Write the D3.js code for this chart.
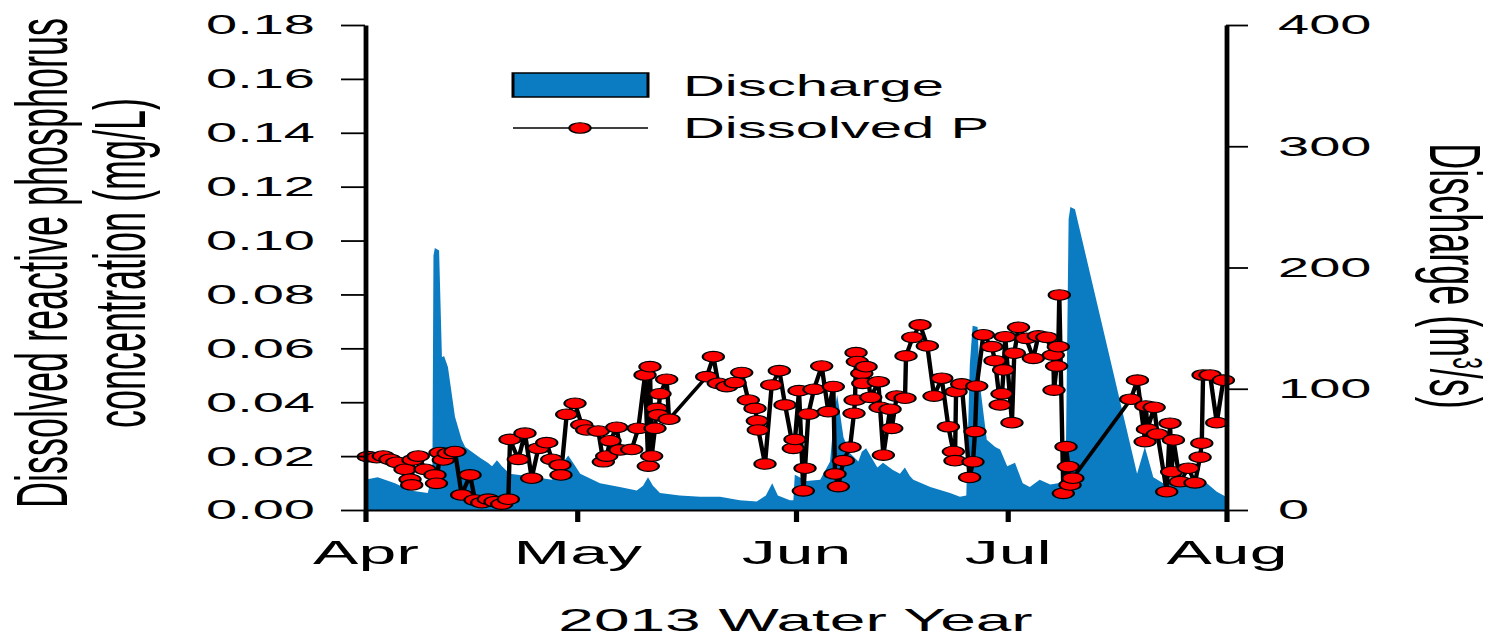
<!DOCTYPE html>
<html>
<head>
<meta charset="utf-8">
<script src="https://cdn.jsdelivr.net/npm/d3@7"></script>
<style>
  html, body { margin: 0; padding: 0; background: #fff; }
  svg { display: block; }
  text { font-family: "Liberation Sans", Arial, Helvetica, sans-serif; fill: #000; }
</style>
</head>
<body>
<svg id="chart" width="1504" height="641"></svg>
<script>
// ---- data -------------------------------------------------------------
// Sample times are given as days after 1 April 2013 (fractional = time of day).
const startDate = new Date(2013, 3, 1);

// Discharge (m3/s)
const qDay = [0, 1.8, 4.25, 6.4, 8.9, 9.55, 9.7, 9.9, 10.5, 10.9, 11.2, 11.75, 12.75, 13.7, 14.2,
  16.3, 17.4, 18.0, 18.7, 19.4, 20.5, 23.0, 26.5, 27.9, 28.8, 29.6, 30.5, 33.3, 36.1, 38.5,
  39.4, 40.1, 40.8, 41.8, 44.6, 47.5, 50.3, 53.1, 55.5, 56.8, 57.7, 58.5, 60.2, 60.7, 60.9,
  62.6, 64.5, 65.9, 66.5, 66.9, 67.3, 67.8, 68.7, 69.9, 70.4, 71.0, 71.6, 72.6, 73.4, 74.8,
  75.8, 76.5, 77.2, 77.7, 80.1, 82.9, 84.3, 85.2, 85.7, 86.1, 86.8, 87.1, 88.1, 89.3, 90.0,
  91.0, 92.1, 93.2, 94.2, 95.6, 97.1, 98.2, 98.9, 99.3, 99.7, 99.95, 100.6, 109.4, 110.5,
  111.7, 113.1, 116.8, 118.7, 120.7, 122];
const qVal = [25, 27, 22, 16, 14, 30, 210, 216, 214, 126, 127, 118, 77, 58, 52,
  43, 39, 36, 41, 36, 30, 28, 25, 38, 45, 38, 30, 22, 19, 16,
  20, 27, 20, 14, 12, 11, 11, 8, 7, 12, 22, 12, 8, 8, 29,
  24, 25, 40, 80, 95, 80, 60, 47, 40, 48, 51, 45, 35, 39, 33,
  30, 35, 28, 25, 19, 14, 11, 12, 120, 152, 151, 105, 58, 52, 50,
  36, 39, 22, 19, 25, 21, 22, 25, 40, 240, 250, 248, 30, 52,
  27, 22, 22, 25, 15, 11];

// Dissolved reactive phosphorus (mg/L)
const pDay = [0.47, 1.66, 2.59, 3.54, 4.49, 5.67, 6.38, 6.62, 6.80, 7.55, 8.50, 9.92, 10.13,
  10.63, 11.10, 11.80, 12.75, 13.70, 14.88, 15.59, 16.54, 17.47, 18.42, 19.37, 20.31, 20.55,
  21.72, 22.67, 23.62, 24.56, 25.75, 26.46, 27.63, 27.77, 28.58, 29.76, 30.71, 31.42, 33.06,
  33.77, 34.25, 34.72, 35.67, 36.13, 37.79, 38.73, 39.68, 40.14, 40.38, 40.62, 41.09, 41.33,
  41.56, 41.80, 42.75, 43.08, 48.42, 49.36, 50.06, 51.25, 52.43, 53.38, 54.31, 55.26, 55.59,
  55.73, 56.68, 57.63, 58.71, 59.52, 60.69, 60.93, 61.50, 62.11, 62.35, 62.82, 63.62, 64.71,
  65.65, 66.36, 66.60, 67.07, 67.78, 68.73, 69.29, 69.44, 69.58, 69.76, 70.39, 70.53, 71.00,
  71.66, 72.74, 72.98, 73.45, 74.40, 74.64, 75.35, 76.52, 76.66, 77.61, 78.65, 79.68, 80.63,
  81.72, 82.66, 83.37, 83.60, 83.75, 84.55, 85.67, 86.15, 86.44, 86.68, 87.62, 88.81, 89.27,
  90.00, 90.26, 90.49, 90.72, 91.67, 92.00, 92.60, 93.67, 94.70, 95.41, 96.60, 97.53, 97.63,
  98.00, 98.24, 98.38, 98.95, 99.33, 99.66, 99.90, 100.3, 108.5, 109.45, 110.54, 110.64,
  110.87, 111.82, 112.29, 113.6, 114.07, 114.3, 114.55, 115.49, 116.67, 117.6, 118.33, 118.57,
  118.75, 119.74, 120.69, 121.63];
const pVal = [0.0198, 0.0194, 0.0200, 0.0188, 0.0177, 0.0151, 0.0114, 0.0093, 0.0186, 0.0200, 0.0151, 0.0130, 0.0099,
  0.0213, 0.0186, 0.0210, 0.0217, 0.0056, 0.0130, 0.0037, 0.0027, 0.0040, 0.0031, 0.0022, 0.0040, 0.0262,
  0.0188, 0.0285, 0.0118, 0.0229, 0.0250, 0.0188, 0.0167, 0.0130, 0.0355, 0.0396, 0.0316, 0.0297, 0.0293,
  0.0179, 0.0200, 0.0257, 0.0307, 0.0223, 0.0225, 0.0303, 0.0501, 0.0163, 0.0532, 0.0200, 0.0303, 0.0377,
  0.0353, 0.0431, 0.0485, 0.0337, 0.0495, 0.0569, 0.0470, 0.0458, 0.0473, 0.0510, 0.0408, 0.0377, 0.0331,
  0.0297, 0.0171, 0.0464, 0.0517, 0.0390, 0.0229, 0.0262, 0.0443, 0.0071, 0.0155, 0.0356, 0.0448, 0.0534,
  0.0365, 0.0458, 0.0134, 0.0087, 0.0183, 0.0233, 0.0359, 0.0408, 0.0584, 0.0551, 0.0507, 0.0470, 0.0532,
  0.0418, 0.0476, 0.0381, 0.0204, 0.0374, 0.0303, 0.0423, 0.0415, 0.0572, 0.0641, 0.0687, 0.0609, 0.0423,
  0.0489, 0.0309, 0.0217, 0.0183, 0.0439, 0.0468, 0.0121, 0.0179, 0.0291, 0.0460, 0.0650, 0.0606, 0.0554,
  0.0390, 0.0431, 0.0520, 0.0643, 0.0324, 0.0582, 0.0678, 0.0637, 0.0563, 0.0646, 0.0641, 0.0575, 0.0445,
  0.0534, 0.0606, 0.0798, 0.0062, 0.0235, 0.0161, 0.0093, 0.0118, 0.0411, 0.0482, 0.0254, 0.0386,
  0.0300, 0.0381, 0.0282, 0.0068, 0.0322, 0.0142, 0.0260, 0.0105, 0.0155, 0.0101, 0.0196, 0.0248,
  0.0501, 0.0501, 0.0324, 0.0482];

const monthTicks = ["2013-04-01", "2013-05-01", "2013-06-01", "2013-07-01", "2013-08-01"];
const pTicks = [0, 0.02, 0.04, 0.06, 0.08, 0.10, 0.12, 0.14, 0.16, 0.18];
const qTicks = [0, 100, 200, 300, 400];

// ---- helpers ----------------------------------------------------------
const toDate = d => new Date(startDate.getTime() + d * 86400000);
const parseDay = d3.timeParse("%Y-%m-%d");
const discharge = qDay.map((d, i) => ({ t: toDate(d), v: qVal[i] }));
const phosphorus = pDay.map((d, i) => ({ t: toDate(d), v: pVal[i] }));

// The figure is laid out on a half-width canvas and stretched horizontally.
const stretchX = 2;
const plot = { left: 182.5, right: 613, top: 25, bottom: 510 };
const blue = "#0b7bc2";
const red = "#ff0000";

const svg = d3.select("#chart");
const g = svg.append("g").attr("transform", `scale(${stretchX},1)`);

const x = d3.scaleTime()
  .domain([parseDay(monthTicks[0]), parseDay(monthTicks[monthTicks.length - 1])])
  .range([plot.left, plot.right]);
const yP = d3.scaleLinear().domain([0, 0.18]).range([plot.bottom, plot.top]);
const yQ = d3.scaleLinear().domain([0, 400]).range([plot.bottom, plot.top]);

// ---- discharge area ---------------------------------------------------
g.append("path")
  .datum(discharge)
  .attr("fill", blue)
  .attr("d", d3.area().x(d => x(d.t)).y0(yQ(0)).y1(d => yQ(d.v)));

// ---- phosphorus line + markers ----------------------------------------
g.append("path")
  .datum(phosphorus)
  .attr("fill", "none")
  .attr("stroke", "#000")
  .attr("stroke-width", 2.2)
  .attr("stroke-linejoin", "round")
  .attr("d", d3.line().x(d => x(d.t)).y(d => yP(d.v)));

g.append("g").selectAll("circle")
  .data(phosphorus)
  .join("circle")
  .attr("cx", d => x(d.t))
  .attr("cy", d => yP(d.v))
  .attr("r", 5.3)
  .attr("fill", red)
  .attr("stroke", "#000")
  .attr("stroke-width", 1.1);

// ---- axes -------------------------------------------------------------
function styleAxis(sel, fontSize, domainWidth, tickWidth) {
  sel.select(".domain").attr("stroke", "#000").attr("stroke-width", domainWidth);
  sel.selectAll(".tick line").attr("stroke", "#000").attr("stroke-width", tickWidth);
  sel.selectAll(".tick text")
    .attr("fill", "#000")
    .style("font-family", '"Liberation Sans", Arial, sans-serif')
    .style("font-size", fontSize + "px");
}

const leftAxis = g.append("g")
  .attr("transform", `translate(${plot.left},0)`)
  .call(d3.axisLeft(yP).tickValues(pTicks).tickFormat(d3.format(".2f"))
    .tickSize(12).tickSizeOuter(0).tickPadding(13));
styleAxis(leftAxis, 28, 2.4, 1.8);

const rightAxis = g.append("g")
  .attr("transform", `translate(${plot.right},0)`)
  .call(d3.axisRight(yQ).tickValues(qTicks)
    .tickSize(11).tickSizeOuter(0).tickPadding(15));
styleAxis(rightAxis, 28, 2.4, 1.8);

const bottomAxis = g.append("g")
  .attr("transform", `translate(0,${plot.bottom})`)
  .call(d3.axisBottom(x).tickValues(monthTicks.map(parseDay)).tickFormat(d3.timeFormat("%b"))
    .tickSize(12).tickSizeOuter(0).tickPadding(18));
styleAxis(bottomAxis, 34, 2, 2.6);

// ---- axis titles ------------------------------------------------------
const leftTitle = ["Dissolved reactive phosphorus", "concentration (mg/L)"];
const leftTitleX = [33.5, 72.5];
leftTitle.forEach((line, i) => {
  g.append("text")
    .attr("transform", `translate(${leftTitleX[i]},263) rotate(-90)`)
    .attr("text-anchor", "middle")
    .style("font-size", "36px")
    .text(line);
});

const rt = g.append("text")
  .attr("transform", "translate(715,276) rotate(90)")
  .attr("text-anchor", "middle")
  .style("font-size", "36px");
rt.append("tspan").text("Discharge (m");
rt.append("tspan").attr("baseline-shift", "super").style("font-size", "21px").text("3");
rt.append("tspan").text("/s)");

g.append("text")
  .attr("x", (plot.left + plot.right) / 2)
  .attr("y", 631)
  .attr("text-anchor", "middle")
  .style("font-size", "32px")
  .text("2013 Water Year");

// ---- legend -----------------------------------------------------------
const legend = g.append("g");
legend.append("rect")
  .attr("x", 256.5).attr("y", 73).attr("width", 67.5).attr("height", 24)
  .attr("fill", blue).attr("stroke", "#000").attr("stroke-width", 1.5);
legend.append("text").attr("x", 341.5).attr("y", 96).style("font-size", "29px").text("Discharge");

legend.append("line")
  .attr("x1", 256.5).attr("x2", 324).attr("y1", 128).attr("y2", 128)
  .attr("stroke", "#000").attr("stroke-width", 1.6);
legend.append("circle")
  .attr("cx", 290).attr("cy", 128).attr("r", 5.3)
  .attr("fill", red).attr("stroke", "#000").attr("stroke-width", 1.1);
legend.append("text").attr("x", 341.5).attr("y", 138.5).style("font-size", "29px").text("Dissolved P");
</script>
</body>
</html>
